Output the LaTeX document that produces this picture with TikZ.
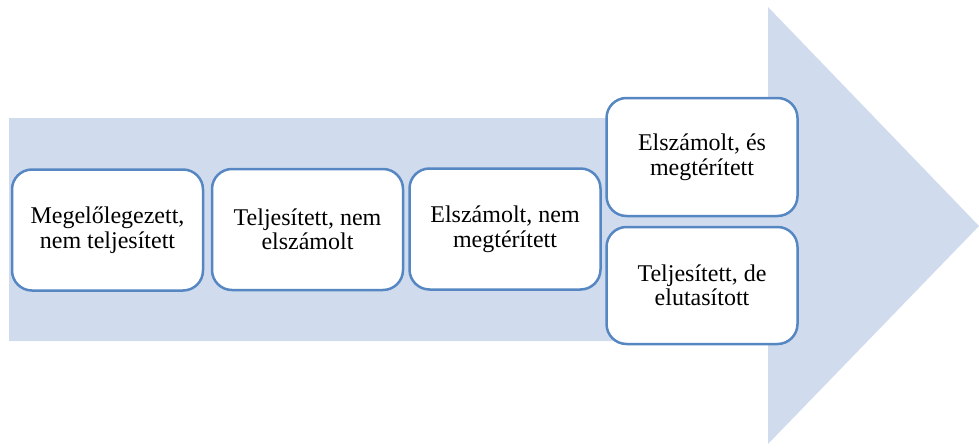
\documentclass[tikz,border=0pt]{standalone}
\usepackage{fontspec}
\setmainfont{Liberation Serif}
\definecolor{arrowfill}{HTML}{D0DCEE}
\definecolor{boxline}{HTML}{5687C2}
\tikzset{
  state/.style={draw=boxline, line width=2.5pt, fill=white, rounded corners=20pt,
    minimum width=191pt, minimum height=121pt, align=center,
    font=\fontsize{24}{24.5}\selectfont}
}

\begin{document}
\begin{tikzpicture}[x=1pt,y=-1pt]
  \useasboundingbox (0,0) rectangle (979,447);
  % background arrow
  \fill[arrowfill] (9,118) -- (768,118) -- (768,7) -- (979,226)
    -- (768,444) -- (768,341) -- (9,341) -- cycle;

  \node[state] (advance)  at (107.5,230) {Megelőlegezett,\\nem teljesített};
  \node[state] (done)     at (307.5,229.5) {Teljesített, nem\\elszámolt};
  \node[state] (settled)  at (505,229) {Elszámolt, nem\\megtérített};
  \node[state, minimum height=118pt] (refunded) at (702,157) {Elszámolt, és\\megtérített};
  \node[state, minimum height=117pt] (rejected) at (702,285.5) {Teljesített, de\\elutasított};
\end{tikzpicture}
\end{document}
